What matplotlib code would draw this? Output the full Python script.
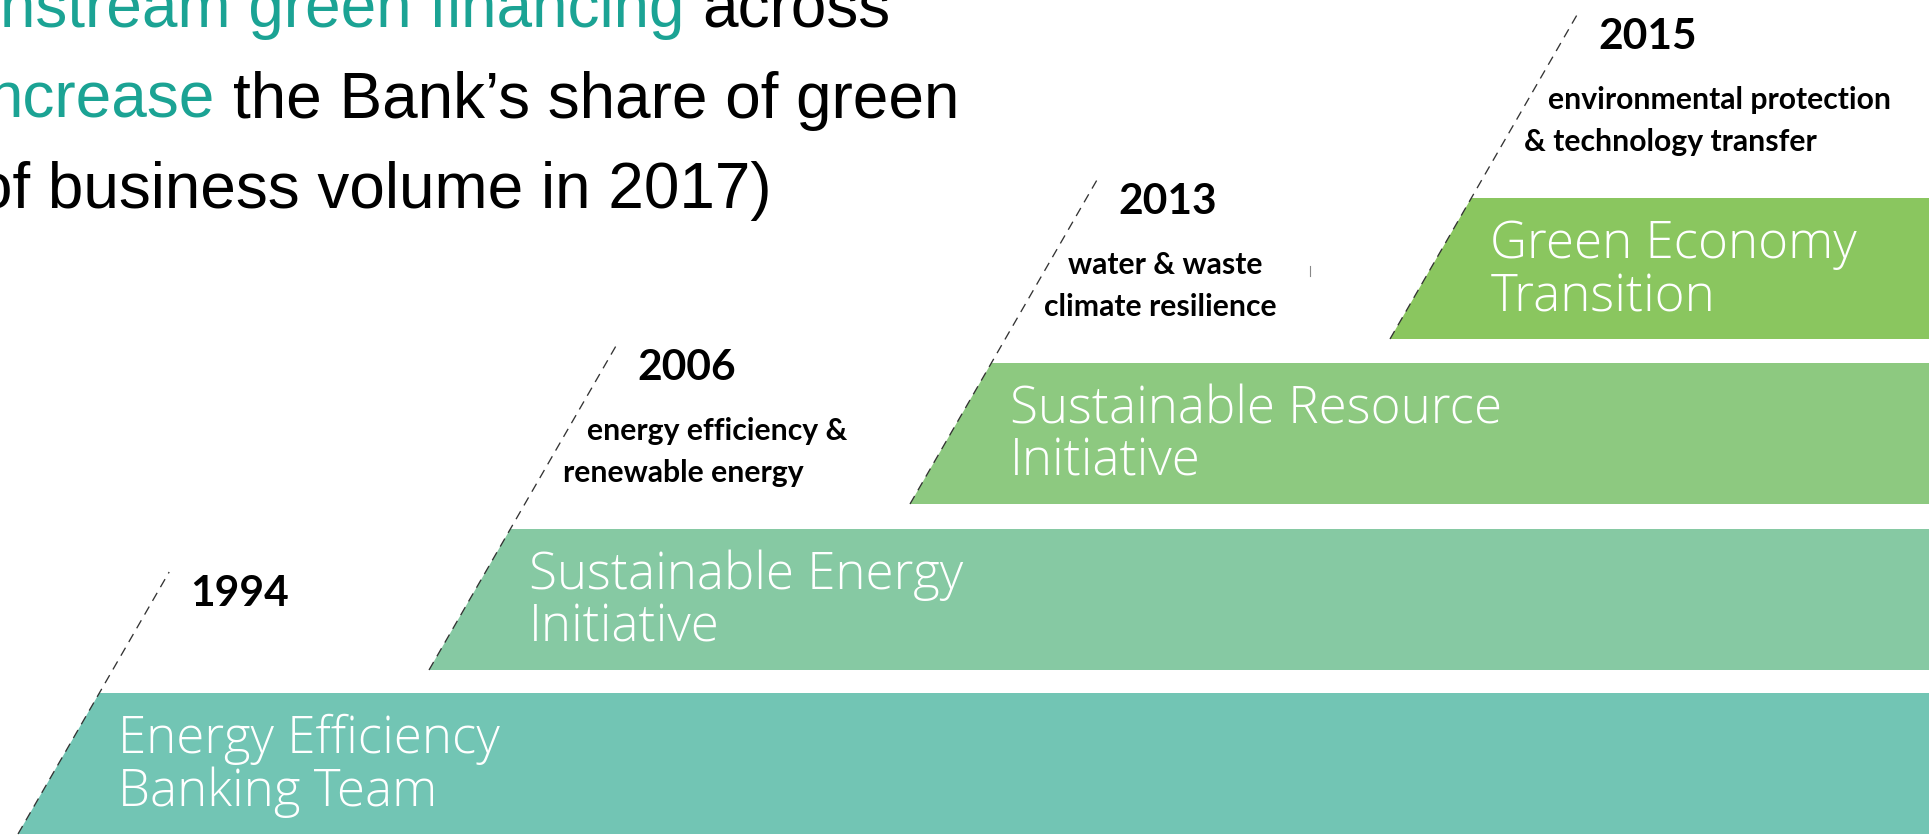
import matplotlib
matplotlib.use("Agg")
import matplotlib.pyplot as plt
from matplotlib.patches import Polygon
from matplotlib.textpath import TextPath
from matplotlib.font_manager import FontProperties

# ---- content ----
years = ["1994", "2006", "2013", "2015"]
programmes = ["Energy Efficiency\nBanking Team",
              "Sustainable Energy\nInitiative",
              "Sustainable Resource\nInitiative",
              "Green Economy\nTransition"]
descriptions = ["",
                "energy efficiency &\nrenewable energy",
                "water & waste\nclimate resilience",
                "environmental protection\n& technology transfer"]
bar_colors = ["#72C5B4", "#86C9A3", "#8DC980", "#8AC65F"]

# headline fragments (cropped slide text): (teal part, black part)
head_teal = "#1BA394"
head_lines = [("nstream green financing", "across"),
              ("ncrease", "the Bank\u2019s share of green"),
              ("", "of business volume in 2017)")]

# ---- layout (pixel space) ----
W, H = 1929, 835
DPI = 100
bar_left_bottom = [18, 429, 910, 1390]
bar_top = [693, 529, 363, 198]
bar_height = 141
slope = 0.577           # dx per dy of the slanted edge
line_above = [121, 183, 183, 183]
head_black_x = [702, 233, -23]
head_baselines = [27, 118, 208]

fig = plt.figure(figsize=(W / DPI, H / DPI), dpi=DPI)
ax = fig.add_axes([0, 0, 1, 1])
ax.set_xlim(0, W)
ax.set_ylim(H, 0)
ax.axis("off")


def text_width_px(s, family, weight, size):
    fp = FontProperties(family=family, weight=weight, size=size)
    tp = TextPath((0, 0), s, prop=fp)
    bb = tp.get_extents()
    return bb.width * DPI / 72.0


def fit_size(s, family, weight, target_px):
    w = text_width_px(s, family, weight, 20)
    return 20 * target_px / w


LABEL_FAM, LABEL_W = "Open Sans", "light"
YEAR_FAM, YEAR_W = "Lato", "bold"
label_size = fit_size("Energy Efficiency", LABEL_FAM, LABEL_W, 376)
year_size = fit_size("2013", YEAR_FAM, YEAR_W, 95)
desc_size = fit_size("climate resilience", YEAR_FAM, YEAR_W, 230)

for i in range(len(years)):
    top = bar_top[i]
    bottom = top + bar_height
    xb = bar_left_bottom[i]
    xt = xb + bar_height * slope
    poly = Polygon([(xb, bottom), (xt, top), (W + 50, top), (W + 50, bottom)],
                   closed=True, facecolor=bar_colors[i], edgecolor="none")
    ax.add_patch(poly)

    # dashed guide line along the slanted edge
    ly_top = top - line_above[i]
    lx_top = xb + (bottom - ly_top) * slope
    ax.plot([xb, lx_top], [bottom, ly_top], color="#333333", lw=0.95,
            ls=(0, (7, 5)), solid_capstyle="butt")

    # programme label inside the bar
    l1, l2 = programmes[i].split("\n")
    ax.text(xt + 19, top + 60, l1, color="white", fontsize=label_size,
            family=LABEL_FAM, fontweight=LABEL_W, va="baseline", ha="left")
    ax.text(xt + 19, top + 113, l2, color="white", fontsize=label_size,
            family=LABEL_FAM, fontweight=LABEL_W, va="baseline", ha="left")

    # year label
    ax.text(lx_top + 21, ly_top + 34, years[i], fontsize=year_size,
            family=YEAR_FAM, fontweight=YEAR_W, va="baseline", ha="left",
            color="black")

    # description lines
    if descriptions[i]:
        for j, line in enumerate(descriptions[i].split("\n")):
            yb = ly_top + 94 + j * 42
            x = lx_top - (yb - 8 - ly_top) * slope + 21
            ax.text(x, yb, line, fontsize=desc_size, family=YEAR_FAM,
                    fontweight=YEAR_W, va="baseline", ha="left",
                    color="black")

# small stray tick seen on the slide
ax.plot([1310, 1310], [266, 276], color="#888888", lw=0.8)

# headline text
HEAD_SIZE = 46
space_px = 0.278 * HEAD_SIZE * DPI / 72.0
for (teal, black), xb_, yb in zip(head_lines, head_black_x, head_baselines):
    ax.text(xb_, yb, black, color="black", fontsize=HEAD_SIZE,
            family="Liberation Sans", va="baseline", ha="left")
    if teal:
        ax.text(xb_ - space_px, yb, teal, color=head_teal,
                fontsize=HEAD_SIZE, family="Liberation Sans",
                va="baseline", ha="right")

fig.savefig("out.png", dpi=DPI)
